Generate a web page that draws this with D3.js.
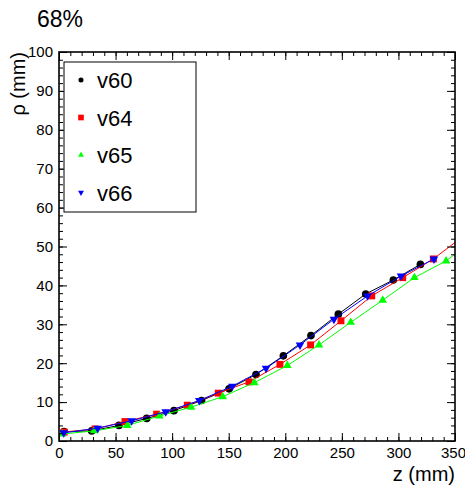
<!DOCTYPE html>
<html lang="en">
<head>
    <meta charset="UTF-8">
    <script type="text/javascript" src="https://d3js.org/d3.v7.min.js"></script>
    <title>68%</title>
    <style>
        body { margin: 0; background: #fff; }
        text { font-family: "Liberation Sans", Arial, sans-serif; }
    </style>
</head>
<body>
    <svg width='465' height='486'></svg>

    <script>
        // data
        const names = ['v60', 'v64', 'v65', 'v66'];

        const z60 = [4.4, 28.9, 53.0, 77.5, 101.6, 126.0, 150.3, 174.1, 198.3, 222.7, 246.9, 271.1, 295.5, 319.4];
        const r60 = [2.4, 2.6, 4.0, 5.8, 7.8, 10.4, 13.4, 17.1, 21.9, 27.1, 32.6, 37.8, 41.4, 45.4];

        const z64 = [4.6, 31.8, 58.3, 86.3, 113.4, 140.8, 167.9, 195.3, 222.4, 249.2, 276.4, 303.8, 330.9, 358.0];
        const r64 = [2.3, 3.1, 5.0, 6.9, 9.2, 12.3, 15.2, 19.7, 24.7, 30.9, 37.3, 42.0, 46.8, 52.8];

        const z65 = [2.9, 31.2, 60.4, 88.7, 116.7, 144.7, 172.6, 201.8, 229.8, 257.8, 286.1, 314.1, 342.1, 370.0];
        const r65 = [1.8, 2.6, 4.0, 6.4, 8.7, 11.4, 15.0, 19.4, 24.7, 30.5, 36.2, 42.0, 46.3, 52.3];

        const z66 = [4.2, 34.2, 64.2, 94.3, 124.0, 153.2, 183.0, 213.0, 243.0, 272.8, 302.3, 331.4];
        const r66 = [2.1, 3.3, 5.2, 7.5, 10.4, 14.1, 18.7, 24.7, 31.3, 37.3, 42.4, 46.8];

        const xTicks = [0, 50, 100, 150, 200, 250, 300, 350];
        const yTicks = [0, 10, 20, 30, 40, 50, 60, 70, 80, 90, 100];

        const svg = d3.select('svg');

        const frame = { left: 59, right: 455, top: 52, bottom: 441 };

        const xScale = d3.scaleLinear().domain([0, 350]).range([frame.left, frame.right]);
        const yScale = d3.scaleLinear().domain([0, 100]).range([frame.bottom, frame.top]);

        const series = [
            { name: names[0], z: z60, r: r60, color: '#000000', symbol: d3.symbolCircle, size: 46, lsize: 20 },
            { name: names[1], z: z64, r: r64, color: '#ff0000', symbol: d3.symbolSquare, size: 48, lsize: 32 },
            { name: names[2], z: z65, r: r65, color: '#00ff00', symbol: d3.symbolTriangle, size: 32, lsize: 15, flip: false },
            { name: names[3], z: z66, r: r66, color: '#0000ff', symbol: d3.symbolTriangle, size: 32, lsize: 15, flip: true }
        ];

        svg.append('rect').attr('width', 465).attr('height', 486).attr('fill', '#fff');

        // clip for data
        svg.append('clipPath').attr('id', 'clip')
            .append('rect')
            .attr('x', frame.left).attr('y', frame.top)
            .attr('width', frame.right - frame.left).attr('height', frame.bottom - frame.top);

        const plot = svg.append('g').attr('clip-path', 'url(#clip)');

        const line = d3.line()
            .x(d => xScale(d[0]))
            .y(d => yScale(d[1]));

        series.forEach(s => {
            const pts = s.z.map((z, i) => [z, s.r[i]]);
            plot.append('path')
                .datum(pts)
                .attr('fill', 'none')
                .attr('stroke', s.color)
                .attr('stroke-width', 1)
                .attr('d', line);
            plot.append('g')
                .selectAll('path')
                .data(pts)
                .enter()
                .append('path')
                .attr('d', d3.symbol().type(s.symbol).size(s.size))
                .attr('fill', s.color)
                .attr('transform', d => `translate(${xScale(d[0])},${yScale(d[1])})` + (s.flip ? ' rotate(180)' : ''));
        });

        // axes, ticks inside the frame (ROOT style)
        const xMinor = d3.range(0, 351, 10);
        const yMinor = d3.range(0, 101, 2);

        function addAxis(axis, transform) {
            const g = svg.append('g').attr('transform', transform).call(axis);
            g.select('.domain').remove();
            g.selectAll('text').attr('font-size', 15).attr('fill', '#000');
            return g;
        }

        const xg = addAxis(d3.axisBottom(xScale).tickValues(xTicks).tickSize(-8).tickPadding(6).tickFormat(d3.format('d')),
            `translate(0,${frame.bottom})`);
        // last label pulled in a little, as in the reference
        xg.selectAll('text').filter(d => d === 350).attr('dx', -2);
        addAxis(d3.axisBottom(xScale).tickValues(xMinor).tickSize(-4).tickFormat(''),
            `translate(0,${frame.bottom})`);
        addAxis(d3.axisTop(xScale).tickValues(xTicks).tickSize(-8).tickFormat(''),
            `translate(0,${frame.top})`);
        addAxis(d3.axisTop(xScale).tickValues(xMinor).tickSize(-4).tickFormat(''),
            `translate(0,${frame.top})`);

        addAxis(d3.axisLeft(yScale).tickValues(yTicks).tickSize(-8).tickPadding(6).tickFormat(d3.format('d')),
            `translate(${frame.left},0)`);
        addAxis(d3.axisLeft(yScale).tickValues(yMinor).tickSize(-4).tickFormat(''),
            `translate(${frame.left},0)`);
        addAxis(d3.axisRight(yScale).tickValues(yTicks).tickSize(-8).tickFormat(''),
            `translate(${frame.right},0)`);
        addAxis(d3.axisRight(yScale).tickValues(yMinor).tickSize(-4).tickFormat(''),
            `translate(${frame.right},0)`);

        svg.selectAll('.tick line').attr('stroke', '#000').attr('stroke-width', 1);

        // frame
        svg.append('rect')
            .attr('x', frame.left).attr('y', frame.top)
            .attr('width', frame.right - frame.left).attr('height', frame.bottom - frame.top)
            .attr('fill', 'none').attr('stroke', '#000').attr('stroke-width', 1.6);

        // titles
        svg.append('text').attr('x', 37).attr('y', 27).attr('font-size', 23).text('68%');

        svg.append('text')
            .attr('x', frame.right).attr('y', 481)
            .attr('text-anchor', 'end').attr('font-size', 20)
            .text('z (mm)');

        svg.append('text')
            .attr('transform', `translate(25,${frame.top}) rotate(-90)`)
            .attr('text-anchor', 'end').attr('font-size', 20)
            .text('ρ (mm)');

        // legend
        const legend = svg.append('g');
        legend.append('rect')
            .attr('x', 64).attr('y', 62).attr('width', 132).attr('height', 150)
            .attr('fill', '#fff').attr('stroke', '#000').attr('stroke-width', 1);

        const entry = legend.selectAll('g.entry')
            .data(series)
            .enter()
            .append('g')
            .attr('transform', (d, i) => `translate(0,${80 + i * 37.5})`);

        entry.append('path')
            .attr('d', d => d3.symbol().type(d.symbol).size(d.lsize)())
            .attr('fill', d => d.color)
            .attr('transform', d => 'translate(81,0)' + (d.flip ? ' rotate(180)' : ''));

        entry.append('text')
            .attr('x', 97).attr('y', 8)
            .attr('font-size', 22)
            .text(d => d.name);
    </script>
</body>
</html>
